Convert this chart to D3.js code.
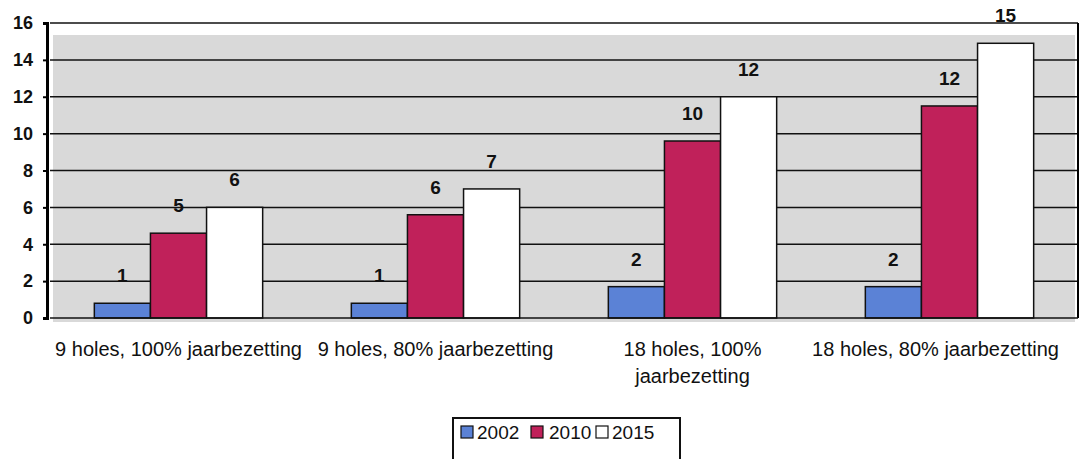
<!DOCTYPE html>
<html><head><meta charset="utf-8">
<script src="https://cdn.jsdelivr.net/npm/d3@7"></script>
<style>body{margin:0;background:#fff;} text{font-family:"Liberation Sans",Arial,sans-serif;}</style>
</head><body><svg id="c" width="1083" height="459"></svg>
<script>
const categories = [["9 holes, 100% jaarbezetting"],["9 holes, 80% jaarbezetting"],["18 holes, 100%","jaarbezetting"],["18 holes, 80% jaarbezetting"]];
const series = ["2002","2010","2015"];
const values2002 = [0.8, 0.8, 1.7, 1.7];
const values2010 = [4.6, 5.6, 9.6, 11.5];
const values2015 = [6.0, 7.0, 12.0, 14.9];
const labels2002 = ["1","1","2","2"];
const labels2010 = ["5","6","10","12"];
const labels2015 = ["6","7","12","15"];
const yTicks = [0,2,4,6,8,10,12,14,16];

const colors = {"2002":"#5b82d6","2010":"#c0215a","2015":"#ffffff"};
const svg = d3.select("#c");
const m = {l:50, r:1078, t:23, b:318};
const y = d3.scaleLinear().domain([0,16]).range([m.b, m.t]);
const x0 = d3.scaleBand().domain(d3.range(categories.length)).range([m.l, m.r]).paddingInner(0.345).paddingOuter(0.1725);
const x1 = d3.scaleBand().domain(series).range([0, x0.bandwidth()]);

// plot background
svg.append("rect").attr("x", m.l+3).attr("y", y(16)+12).attr("width", m.r-m.l-6).attr("height", m.b - y(16) - 8).attr("fill","#d9d9d9");

// gridlines
svg.append("g").selectAll("line").data(yTicks.filter(d=>d>0)).join("line")
  .attr("x1", m.l).attr("x2", m.r).attr("y1", d=>y(d)).attr("y2", d=>y(d))
  .attr("stroke","#111").attr("stroke-width",1.5);

// y axis
const ya = svg.append("g").attr("transform",`translate(${m.l-3},0)`).call(d3.axisLeft(y).tickValues(yTicks).tickSize(4).tickFormat(d3.format("d")));
ya.select(".domain").attr("stroke","#000").attr("stroke-width",3);
ya.selectAll(".tick line").attr("stroke","#000").attr("stroke-width",2);
ya.selectAll(".tick text").attr("font-size",18).attr("font-weight","bold").attr("fill","#111").attr("x",-14);

// right border
svg.append("line").attr("x1",m.r).attr("x2",m.r).attr("y1",m.t).attr("y2",m.b).attr("stroke","#000").attr("stroke-width",2);

const data = [values2002, values2010, values2015];
const labs = [labels2002, labels2010, labels2015];
series.forEach((s,si)=>{
  const g = svg.append("g");
  g.selectAll("rect").data(data[si]).join("rect")
    .attr("x",(d,i)=>x0(i)+x1(s)).attr("y",d=>y(d))
    .attr("width",x1.bandwidth()).attr("height",d=>y(0)-y(d))
    .attr("fill",colors[s]).attr("stroke","#111").attr("stroke-width",1.5);
  g.selectAll("text").data(data[si]).join("text")
    .attr("x",(d,i)=>x0(i)+x1(s)+x1.bandwidth()/2).attr("y",d=>y(d)-21)
    .attr("text-anchor","middle").attr("font-size",19).attr("font-weight","bold").attr("fill","#111")
    .text((d,i)=>labs[si][i]);
});

// x axis line
svg.append("line").attr("x1",m.l).attr("x2",m.r).attr("y1",y(0)).attr("y2",y(0)).attr("stroke","#111").attr("stroke-width",1.5);

// category labels
const cl = svg.append("g");
categories.forEach((lines,i)=>{
  const cx = x0(i)+x0.bandwidth()/2 - (i===3 ? 14 : 0);
  const t = cl.append("text").attr("x", cx).attr("y",356).attr("text-anchor","middle").attr("font-size",20).attr("fill","#111");
  lines.forEach((ln,j)=>t.append("tspan").attr("x",cx).attr("dy", j?27:0).text(ln));
});

// legend
const lg = svg.append("g");
lg.append("rect").attr("x",453).attr("y",418).attr("width",227).attr("height",50).attr("fill","#fff").attr("stroke","#111").attr("stroke-width",2);
const items = [{s:"2002",x:461,tx:477},{s:"2010",x:531,tx:549},{s:"2015",x:596,tx:612}];
items.forEach(it=>{
  lg.append("rect").attr("x",it.x).attr("y",426).attr("width",12).attr("height",12).attr("fill",colors[it.s]).attr("stroke","#111").attr("stroke-width",1.2);
  lg.append("text").attr("x",it.tx).attr("y",439).attr("font-size",19).attr("fill","#111").text(it.s);
});
</script></body></html>
